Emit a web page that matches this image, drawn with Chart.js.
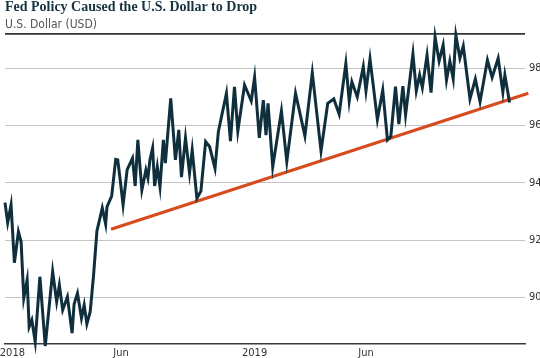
<!DOCTYPE html>
<html>
<head>
<meta charset="utf-8">
<script src="https://cdn.jsdelivr.net/npm/chart.js@4.4.1/dist/chart.umd.min.js"></script>
<style>
  body { margin: 0; background: #fff; }
  #wrap { width: 540px; height: 358px; position: relative; }
</style>
</head>
<body>
<div id="wrap"><canvas id="usdChart"></canvas></div>
<script>
// days counted from Jan 1 2018, value of the U.S. dollar index
const dayOffsets = [-7, -3, 2, 7, 13, 17, 21, 26, 29, 33, 38, 45, 53, 64, 70, 74, 79, 86, 93, 96,
  101, 107, 111, 115, 120, 125, 130, 138, 143, 145, 152, 158, 161, 164, 169, 175, 183, 187, 191, 197,
  203, 206, 209, 213, 216, 220, 224, 229, 232, 240, 247, 252, 256, 262, 268, 272, 279, 285, 292, 298,
  306, 311, 323, 329, 335, 340, 350, 360, 365, 372, 378, 382, 385, 392, 405, 413, 426, 440, 451, 464,
  474, 483, 491, 501, 506, 510, 518, 527, 531, 537, 548, 556, 563, 568, 575, 580, 586, 590, 601, 606,
  611, 615, 622, 628, 634, 640, 646, 651, 656, 661, 665, 671, 676, 686, 694, 701, 712, 719, 728, 735,
  738, 745];
const usdIndex = [93.31, 92.61, 93.23, 91.21, 92.29, 91.94, 89.97, 90.61, 88.97, 89.21, 88.45, 90.72, 88.3, 90.90, 89.85, 90.43, 89.56, 90.02, 88.75, 89.77,
  90.14, 89.27, 89.73, 89.07, 89.50, 90.78, 92.32, 93.12, 92.56, 93.16, 93.54, 94.82, 94.80, 94.24, 93.23, 94.45, 94.86, 93.89, 95.50, 93.75,
  94.45, 94.17, 94.80, 95.22, 93.89, 94.56, 93.86, 95.50, 94.69, 96.95, 94.80, 95.85, 94.20, 95.57, 94.34, 95.15, 93.46, 93.71, 95.44, 95.26,
  94.51, 95.79, 97.13, 95.46, 97.35, 95.81, 97.42, 96.86, 97.69, 95.57, 96.89, 95.67, 96.78, 94.56, 96.51, 94.74, 97.13, 95.64, 97.84, 95.11,
  96.78, 96.93, 96.40, 98.17, 96.86, 97.53, 97.00, 98.06, 97.21, 98.33, 96.21, 97.24, 95.50, 95.62, 97.36, 96.05, 97.38, 96.37, 98.50, 97.21,
  97.77, 97.33, 98.46, 97.15, 99.10, 98.25, 98.81, 97.59, 98.25, 97.63, 99.15, 98.36, 98.78, 96.93, 97.63, 96.83, 98.29, 97.68, 98.35, 97.17,
  97.77, 96.81];

const trendDays = [151, 773];
const trendValues = [92.38, 97.13];

const xTickDays = [4, 166, 365, 531];
const xTickLabels = ['2018', 'Jun', '2019', 'Jun'];
const yTickValues = [90, 92, 94, 96, 98];
const yMin = 88.37;
const yMax = 99.2;

const narrow = "'Liberation Sans Narrow', 'DejaVu Sans Condensed', sans-serif";

const usdPoints = dayOffsets.map((d, i) => ({ x: d, y: usdIndex[i] }));
const trendPoints = trendDays.map((d, i) => ({ x: d, y: trendValues[i] }));

new Chart(document.getElementById('usdChart'), {
  type: 'line',
  data: {
    datasets: [
      {
        label: 'U.S. Dollar',
        data: usdPoints,
        borderColor: '#0f2f3c',
        borderWidth: 3,
        borderJoinStyle: 'miter',
        pointRadius: 0,
        tension: 0,
        clip: false
      },
      {
        label: 'Trend',
        data: trendPoints,
        borderColor: '#d84b1e',
        borderWidth: 3,
        pointRadius: 0,
        tension: 0,
        clip: false
      }
    ]
  },
  options: {
    responsive: true,
    maintainAspectRatio: false,
    animation: false,
    layout: { padding: { left: 5, right: 0, top: 0, bottom: 0 } },
    plugins: {
      legend: { display: false },
      tooltip: { enabled: false },
      title: {
        display: true,
        text: 'Fed Policy Caused the U.S. Dollar to Drop',
        align: 'start',
        color: '#16333f',
        font: { family: "'Liberation Serif', serif", size: 14, weight: 'bold', lineHeight: 0.9 },
        padding: { top: 1, bottom: 4 }
      },
      subtitle: {
        display: true,
        text: 'U.S. Dollar (USD)',
        align: 'start',
        color: '#555',
        font: { family: narrow, size: 12, lineHeight: 1.2 },
        padding: { top: 0, bottom: 2 }
      }
    },
    scales: {
      x: {
        type: 'linear',
        min: -7,
        max: 768,
        grid: { display: false, drawTicks: false },
        border: { display: true, color: '#3a3a3a', width: 1.5 },
        afterBuildTicks: (scale) => { scale.ticks = xTickDays.map(v => ({ value: v })); },
        afterFit: (scale) => {
          scale.height = 14;
          scale.paddingLeft = 0;
          scale.paddingRight = 0;
        },
        ticks: {
          padding: 3,
          maxRotation: 0,
          autoSkip: false,
          color: '#333',
          font: { family: narrow, size: 11 },
          callback: (v) => {
            const i = xTickDays.indexOf(v);
            return i >= 0 ? xTickLabels[i] : '';
          }
        }
      },
      y: {
        position: 'right',
        min: yMin,
        max: yMax,
        border: { display: false },
        grid: {
          drawTicks: false,
          color: (ctx) => ctx.tick && ctx.tick.value === yMax ? '#333' : '#c4c4c4',
          lineWidth: (ctx) => ctx.tick && ctx.tick.value === yMax ? 1.8 : 1
        },
        afterBuildTicks: (scale) => { scale.ticks = yTickValues.concat([yMax]).map(v => ({ value: v })); },
        afterFit: (scale) => { scale.width = 15; },
        ticks: {
          padding: 4,
          color: '#333',
          font: { family: narrow, size: 11 },
          callback: (v) => yTickValues.includes(v) ? String(v) : ''
        }
      }
    }
  }
});
</script>
</body>
</html>
